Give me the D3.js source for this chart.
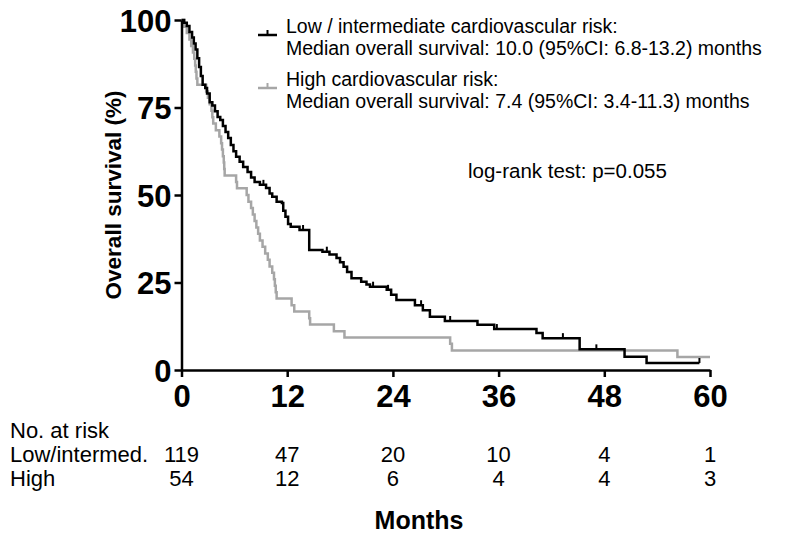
<!DOCTYPE html>
<html>
<head>
<meta charset="utf-8">
<script src="https://cdn.jsdelivr.net/npm/d3@7"></script>
<style>
  html, body { margin: 0; padding: 0; background: #fff; }
  svg { display: block; font-family: "Liberation Sans", Arial, sans-serif; }
</style>
</head>
<body>
<svg id="chart" width="785" height="537"></svg>
<script>
// ---- data ----
const monthTicks = [0, 12, 24, 36, 48, 60];
const survTicks = [0, 25, 50, 75, 100];

// Low / intermediate cardiovascular risk (step times in months, survival % after each step)
const lowTimes = [0.3,0.6,0.9,1.2,1.4,1.6,1.8,2.0,2.2,2.4,2.7,2.9,3.2,3.5,3.8,4.1,4.4,4.7,5.0,5.3,5.6,5.9,6.2,6.6,7.0,7.5,7.9,8.3,8.9,9.6,10.0,10.3,10.8,11.4,11.55,11.8,12.1,12.4,13.4,14.5,16.0,16.8,17.6,18.0,18.4,18.8,19.3,20.4,21.0,21.4,23.3,23.8,24.4,26.5,27.4,28.2,29.9,33.6,35.5,40.3,41.0,45.2,50.3,52.8];
const lowSurv  = [99.2,98.3,96.6,95.0,93.3,91.6,89.1,86.6,84.0,81.5,80.6,79.0,76.5,75.6,73.9,72.3,71.4,69.7,68.0,66.3,64.3,62.5,60.9,59.5,58.0,56.6,55.0,53.7,52.9,52.0,50.4,49.5,48.1,47.7,45.5,43.8,41.7,40.9,40.0,34.3,33.8,33.0,32.0,30.8,29.5,28.0,26.2,25.2,24.4,23.8,22.9,21.5,20.0,18.5,17.1,15.2,14.0,12.9,11.7,10.6,9.1,5.9,3.8,2.0];
const lowEnd = 58.8;
const lowCensor = [9.3, 13.8, 16.5, 21.75, 23.45, 27.2, 30.5, 35.8, 43.3, 47.1, 58.8];

// High cardiovascular risk
const highTimes = [0.3,0.6,0.9,1.1,1.3,1.45,1.55,1.62,1.7,1.8,2.8,3.0,3.2,3.4,3.5,3.6,3.9,4.3,4.5,4.6,4.7,4.8,4.85,4.9,6.2,6.3,7.4,7.6,7.9,8.1,8.3,8.5,8.7,8.9,9.2,9.5,9.8,10.0,10.3,10.5,10.6,10.7,10.8,12.5,12.8,14.5,14.6,17.3,18.5,30.5,30.7,56.3];
const highSurv  = [98.1,96.3,94.4,92.6,90.7,88.9,87.0,85.2,83.3,81.5,79.6,77.8,75.9,74.1,72.2,70.4,68.5,66.7,64.8,63.0,61.1,59.3,57.4,55.6,53.7,51.9,50.0,48.1,46.3,44.4,42.6,40.7,38.9,37.0,35.2,33.3,31.5,29.6,27.8,25.9,24.1,22.2,20.4,18.5,16.7,14.8,13.0,11.1,9.3,7.5,5.6,3.7];
const highEnd = 60;

const groupLabels = ["Low/intermed.", "High"];
const riskLow  = [119, 47, 20, 10, 4, 1];
const riskHigh = [54, 12, 6, 4, 4, 3];

const legendLines = [
  ["Low / intermediate cardiovascular risk:", "Median overall survival: 10.0 (95%CI: 6.8-13.2) months"],
  ["High cardiovascular risk:", "Median overall survival: 7.4 (95%CI: 3.4-11.3) months"]
];
const testText = "log-rank test: p=0.055";

// ---- drawing ----
const BLACK = "#000000", GREY = "#a6a6a6";
const svg = d3.select("#chart");
const x = d3.scaleLinear().domain([0, 60]).range([181.5, 710]);
const y = d3.scaleLinear().domain([0, 100]).range([370, 20]);

function stepPoints(times, surv, end) {
  const pts = [[0, 100]];
  times.forEach((t, i) => pts.push([t, surv[i]]));
  pts.push([end, surv[surv.length - 1]]);
  return pts;
}
function survAt(times, surv, t) {
  let s = 100;
  times.forEach((tt, i) => { if (tt <= t) s = surv[i]; });
  return s;
}
const line = d3.line().x(d => x(d[0])).y(d => y(d[1])).curve(d3.curveStepAfter);

// curves (grey first, black on top)
svg.append("path").datum(stepPoints(highTimes, highSurv, highEnd))
  .attr("d", line).attr("fill", "none").attr("stroke", GREY).attr("stroke-width", 2.5);
svg.append("path").datum(stepPoints(lowTimes, lowSurv, lowEnd))
  .attr("d", line).attr("fill", "none").attr("stroke", BLACK).attr("stroke-width", 2.5);

// censor marks
svg.append("g").selectAll("line").data(lowCensor).join("line")
  .attr("x1", d => x(d)).attr("x2", d => x(d))
  .attr("y1", d => y(survAt(lowTimes, lowSurv, d)))
  .attr("y2", d => y(survAt(lowTimes, lowSurv, d)) - 5)
  .attr("stroke", BLACK).attr("stroke-width", 2);

// axes
const xAxis = svg.append("g").attr("transform", "translate(0,370)")
  .call(d3.axisBottom(x).tickValues(monthTicks).tickSize(7).tickSizeOuter(0).tickPadding(8));
const yAxis = svg.append("g").attr("transform", "translate(181.5,0)")
  .call(d3.axisLeft(y).tickValues(survTicks).tickSize(7).tickSizeOuter(0).tickPadding(3));
[xAxis, yAxis].forEach(a => {
  a.select(".domain").attr("stroke", BLACK).attr("stroke-width", 2.5);
  a.selectAll(".tick line").attr("stroke", BLACK).attr("stroke-width", 2.5);
  a.selectAll(".tick text").attr("fill", BLACK).attr("font-weight", "bold")
    .attr("font-family", "Liberation Sans, Arial, sans-serif");
});
xAxis.selectAll(".tick text").attr("font-size", 31).attr("dy", "0.71em");
yAxis.selectAll(".tick text").attr("font-size", 31).attr("dy", "0.36em");

// y-axis title
svg.append("text")
  .attr("transform", `translate(121,${y(50)}) rotate(-90)`)
  .attr("text-anchor", "middle").attr("font-size", 22.5).attr("font-weight", "bold")
  .text("Overall survival (%)");

// x-axis title
svg.append("text").attr("x", 419).attr("y", 529).attr("text-anchor", "middle")
  .attr("font-size", 25).attr("font-weight", "bold").text("Months");

// legend
const legendColors = [BLACK, GREY];
const legendY = [35, 88];
legendLines.forEach((ls, i) => {
  const g = svg.append("g");
  g.append("line").attr("x1", 258).attr("x2", 277).attr("y1", legendY[i]).attr("y2", legendY[i])
    .attr("stroke", legendColors[i]).attr("stroke-width", 2.5);
  g.append("line").attr("x1", 267.5).attr("x2", 267.5).attr("y1", legendY[i]).attr("y2", legendY[i] - 5)
    .attr("stroke", legendColors[i]).attr("stroke-width", 2);
  ls.forEach((t, j) => {
    g.append("text").attr("x", 286).attr("y", legendY[i] - 2 + j * 22)
      .attr("font-size", 19.5).attr("fill", BLACK).text(t);
  });
});

svg.append("text").attr("x", 468).attr("y", 178).attr("font-size", 20.5).text(testText);

// number at risk table
svg.append("text").attr("x", 10).attr("y", 438).attr("font-size", 22).text("No. at risk");
[riskLow, riskHigh].forEach((row, i) => {
  const yy = 462 + i * 24;
  svg.append("text").attr("x", 10).attr("y", yy).attr("font-size", 22).text(groupLabels[i]);
  svg.append("g").selectAll("text").data(row).join("text")
    .attr("x", (d, k) => x(monthTicks[k])).attr("y", yy)
    .attr("text-anchor", "middle").attr("font-size", 22).text(d => d);
});
</script>
</body>
</html>
